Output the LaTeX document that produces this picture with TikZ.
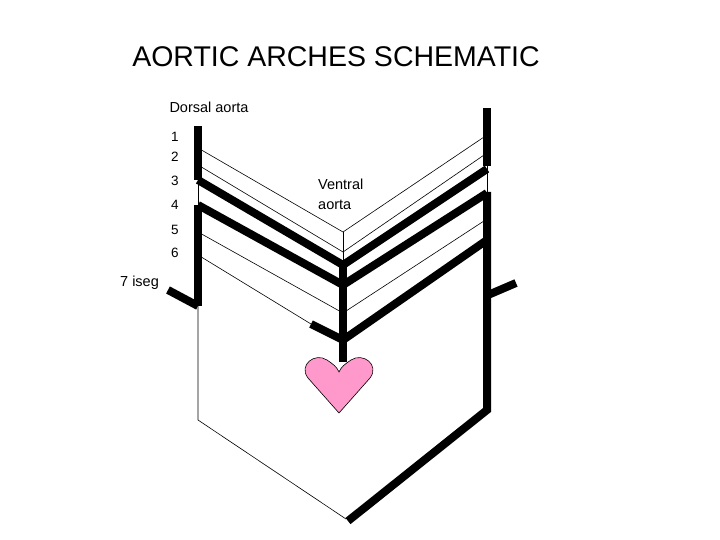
\documentclass[tikz,border=0pt]{standalone}
\usepackage{fontspec}
\setmainfont{Liberation Sans}
\begin{document}
\begin{tikzpicture}[x=1pt,y=-1pt,
  thk/.style={line width=8pt},
  thn/.style={line width=0.6pt},
  lbl/.style={font=\fontsize{13.5}{16}\selectfont, inner sep=0pt}]
\useasboundingbox (0,0) rectangle (720,540);
% text
\node[font=\fontsize{28.5}{32}\selectfont, inner sep=0pt] (title) at (336,57) {AORTIC ARCHES SCHEMATIC};
\node[lbl, font=\fontsize{14.5}{16}\selectfont] (dorsal) at (209,107) {Dorsal aorta};
\node[lbl, anchor=west] (n1) at (171,137) {1};
\node[lbl, anchor=west] (n2) at (171,157) {2};
\node[lbl, anchor=west] (n3) at (171,181) {3};
\node[lbl, anchor=west] (n4) at (171,205) {4};
\node[lbl, anchor=west] (n5) at (171,230) {5};
\node[lbl, anchor=west] (n6) at (171,253) {6};
\node[lbl, anchor=west, font=\fontsize{14.5}{16}\selectfont] (iseg) at (120,283) {7 iseg};
\node[lbl, anchor=west, align=left, font=\fontsize{14.5}{20}\selectfont] (ventral) at (318,194) {Ventral\\aorta};
% key points
\coordinate (L1) at (198,148); \coordinate (L2) at (198,165);
\coordinate (L3) at (198,180); \coordinate (L4) at (198,205);
\coordinate (L5) at (198,232); \coordinate (L6) at (198,255);
\coordinate (C1) at (343,232); \coordinate (C2) at (343,252);
\coordinate (C3) at (343,265); \coordinate (C4) at (343,285);
\coordinate (C5) at (343,313); \coordinate (C6) at (343,340);
\coordinate (S6) at (311,324); \coordinate (Cb) at (343,362);
\coordinate (R1) at (487,135); \coordinate (R2) at (487,153);
\coordinate (R3) at (487,169); \coordinate (R4) at (487,193);
\coordinate (R5) at (487,219); \coordinate (R6) at (487,240);
% left dorsal aorta
\draw[thk] (198,126) -- (L3);
\draw[thn] (L3) -- (L4);
\draw[thk] (L4) -- (198,306);
\draw[thn] (198,306) -- (198,420) -- (346,519);
\draw[thk] (168,290) -- (198,306);
% right dorsal aorta
\draw[thk] (487,108) -- (487,166);
\draw[thn] (487,166) -- (487,194);
\draw[thk] (487,192) -- (487,410) -- (348,521);
\draw[thk] (488,295) -- (516,283);
% arches
\draw[thn] (L1) -- (C1) -- (R1);
\draw[thn] (L2) -- (C2) -- (R2);
\draw[thn] (C1) -- (C3);
\draw[thk] (L3) -- (C3) -- (R3);
\draw[thk] (L4) -- (C4) -- (R4);
\draw[thn] (L5) -- (C5) -- (R5);
\draw[thn] (L6) -- (S6);
\draw[thk] (S6) -- (C6) -- (R6);
\draw[thk] (C3) -- (Cb);
% heart
\draw[fill={rgb,255:red,255;green,153;blue,204}, thn] (339,413) -- (308,378)
  .. controls (298,365) and (315,352) .. (327,360)
  .. controls (333,364) and (337,367) .. (339,372)
  .. controls (341,367) and (345,364) .. (351,360)
  .. controls (363,352) and (380,365) .. (370,378) -- cycle;
\end{tikzpicture}
\end{document}
